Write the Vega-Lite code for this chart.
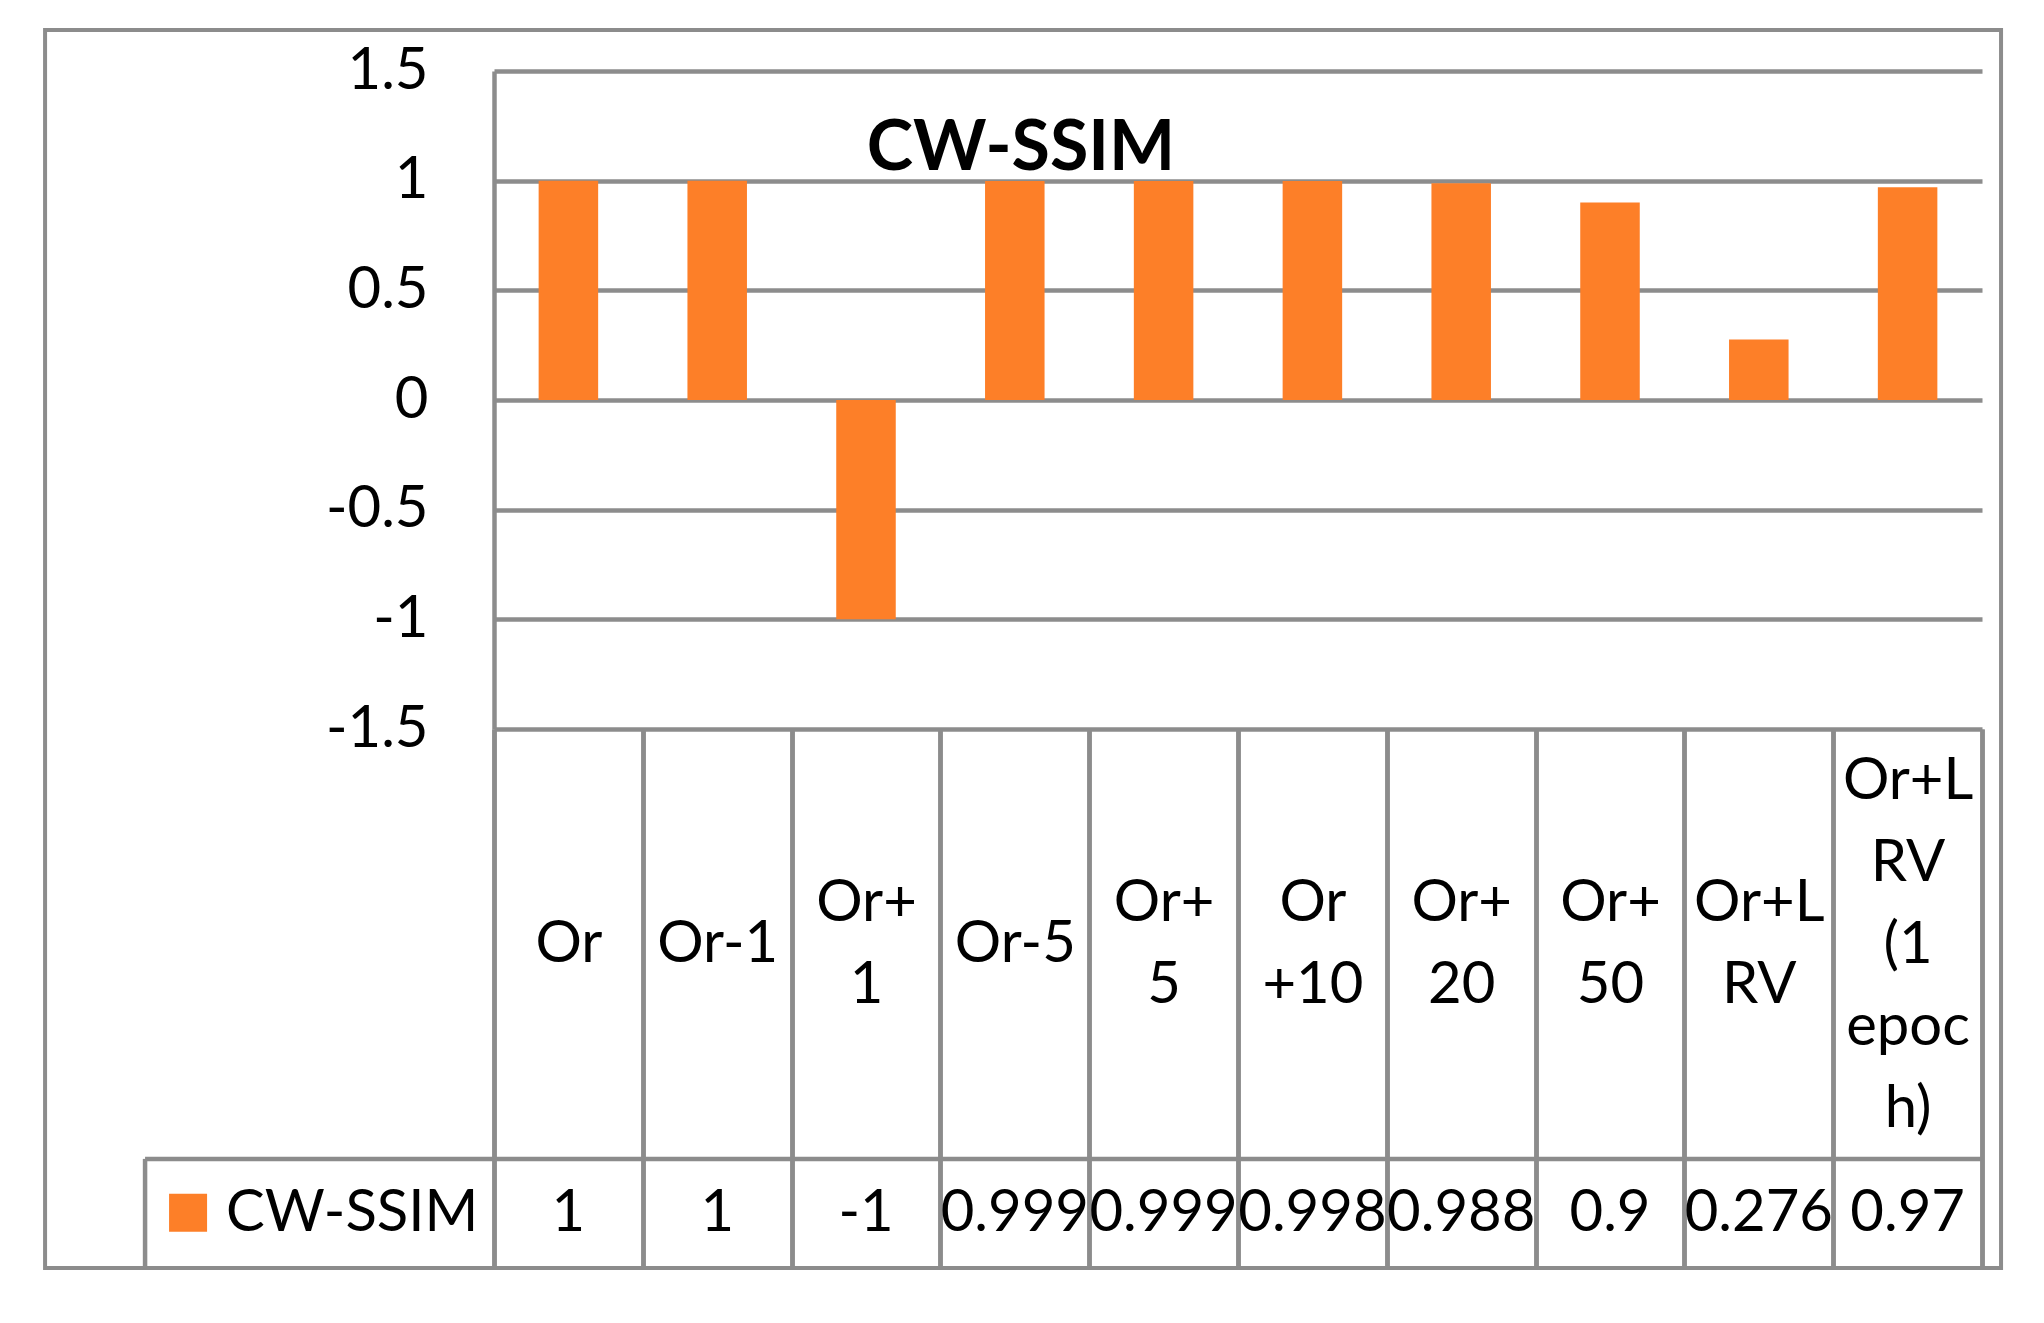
{
  "$schema": "https://vega.github.io/schema/vega-lite/v6.json",
  "width": 1488,
  "height": 658,
  "autosize": {"type": "none"},
  "padding": {"left": 494, "top": 71, "right": 62, "bottom": 594},
  "background": "white",
  "config": {"view": {"stroke": null}, "font": "Lato"},
  "title": {"text": "CW-SSIM", "font": "Lato", "fontSize": 70, "fontWeight": "bold", "color": "black", "anchor": "middle", "frame": "group", "dx": -217, "offset": -98, "dy": 114, "baseline": "alphabetic"},
  "resolve": {"axis": {"x": "independent"}},
  "data": {"values": [
    {"cat": "Or", "v": 1},
    {"cat": "Or-1", "v": 1},
    {"cat": "Or+1", "v": -1},
    {"cat": "Or-5", "v": 0.999},
    {"cat": "Or+5", "v": 0.999},
    {"cat": "Or+10", "v": 0.998},
    {"cat": "Or+20", "v": 0.988},
    {"cat": "Or+50", "v": 0.9},
    {"cat": "Or+LRV", "v": 0.276},
    {"cat": "Or+LRV (1 epoch)", "v": 0.97}
  ]},
  "layer": [
    {
      "data": {"values": [{}]},
      "mark": {"type": "rect", "filled": false, "stroke": "#8c8c8c", "strokeWidth": 4},
      "encoding": {
        "x": {"datum": "Or", "type": "nominal", "bandPosition": -3.017, "axis": null},
        "x2": {"datum": "Or+LRV (1 epoch)", "bandPosition": 1.128},
        "y": {"datum": 1.687, "type": "quantitative"},
        "y2": {"datum": -3.958}
      }
    },
    {
      "mark": {"type": "bar", "width": {"band": 0.4}, "color": "#fd7f28"},
      "encoding": {
        "x": {
          "field": "cat", "type": "nominal", "sort": null,
          "scale": {"domain": ["Or", "Or-1", "Or+1", "Or-5", "Or+5", "Or+10", "Or+20", "Or+50", "Or+LRV", "Or+LRV (1 epoch)"], "paddingInner": 0, "paddingOuter": 0},
          "axis": {
            "orient": "bottom", "title": null, "domain": false, "grid": false,
            "ticks": true, "tickBand": "extent", "tickSize": 539, "tickColor": "#8c8c8c", "tickWidth": 4.5,
            "labelExpr": "datum.label == 'Or+LRV (1 epoch)' ? '' : ({'Or+1':['Or+','1'],'Or+5':['Or+','5'],'Or+10':['Or','+10'],'Or+20':['Or+','20'],'Or+50':['Or+','50'],'Or+LRV':['Or+L','RV']}[datum.label] || datum.label)",
            "labelFont": "Lato", "labelFontSize": 58, "labelLineHeight": 82,
            "labelBaseline": {"condition": {"test": "indexof(['Or+1','Or+5','Or+10','Or+20','Or+50','Or+LRV'], datum.value) >= 0", "value": "line-bottom"}, "value": "middle"},
            "labelPadding": -324, "labelAngle": 0, "labelAlign": "center", "labelOverlap": false,
            "labelLimit": 0, "labelColor": "black", "labelBound": false
          }
        },
        "y": {
          "field": "v", "type": "quantitative",
          "scale": {"domain": [-1.5, 1.5], "nice": false, "zero": false},
          "axis": {
            "title": null, "values": [-1.5, -1, -0.5, 0, 0.5, 1, 1.5],
            "labelExpr": "'' + datum.value",
            "grid": true, "gridColor": "#8c8c8c", "gridWidth": 4.5,
            "domain": true, "domainColor": "#8c8c8c", "domainWidth": 4.5,
            "ticks": false, "tickSize": 0, "labelPadding": 66,
            "labelFont": "Lato", "labelFontSize": 58, "labelColor": "black"
          }
        }
      }
    },
    {
      "mark": {"type": "text", "font": "Lato", "fontSize": 58, "baseline": "middle", "align": "center", "color": "black"},
      "encoding": {
        "x": {
          "field": "cat", "type": "nominal",
          "axis": {
            "orient": "bottom", "title": null, "domain": false, "grid": false,
            "ticks": true, "tickBand": "extent", "tickSize": 539, "tickColor": "#8c8c8c", "tickWidth": 4.5,
            "labelExpr": "datum.label == 'Or+LRV (1 epoch)' ? ['Or+L','RV','(1','epoc','h)'] : ''",
            "labelFont": "Lato", "labelFontSize": 58, "labelLineHeight": 82, "labelBaseline": "middle",
            "labelPadding": -487, "labelAngle": 0, "labelAlign": "center", "labelOverlap": false,
            "labelLimit": 0, "labelColor": "black", "labelBound": false
          }
        },
        "y": {"datum": -3.71, "type": "quantitative"},
        "text": {"field": "v", "type": "nominal"}
      }
    },
    {
      "data": {"values": [{}]},
      "mark": {"type": "rule", "stroke": "#8c8c8c", "strokeWidth": 4.5},
      "encoding": {
        "x": {"datum": "Or", "type": "nominal", "bandPosition": -2.345, "axis": null},
        "x2": {"datum": "Or+LRV (1 epoch)", "bandPosition": 1},
        "y": {"datum": -3.46, "type": "quantitative"}
      }
    },
    {
      "data": {"values": [{}]},
      "mark": {"type": "rule", "stroke": "#8c8c8c", "strokeWidth": 4.5},
      "encoding": {
        "x": {"datum": "Or", "type": "nominal", "bandPosition": -2.345, "axis": null},
        "y": {"datum": -3.46, "type": "quantitative"},
        "y2": {"datum": -3.958}
      }
    },
    {
      "data": {"values": [{}]},
      "mark": {"type": "square", "size": 1444, "filled": true, "color": "#fd7f28", "opacity": 1},
      "encoding": {
        "x": {"datum": "Or", "type": "nominal", "bandPosition": -2.056, "axis": null},
        "y": {"datum": -3.705, "type": "quantitative"}
      }
    },
    {
      "data": {"values": [{}]},
      "mark": {"type": "text", "font": "Lato", "fontSize": 58, "baseline": "middle", "align": "left", "color": "black"},
      "encoding": {
        "x": {"datum": "Or", "type": "nominal", "bandPosition": -1.801, "axis": null},
        "y": {"datum": -3.71, "type": "quantitative"},
        "text": {"value": "CW-SSIM"}
      }
    }
  ]
}
